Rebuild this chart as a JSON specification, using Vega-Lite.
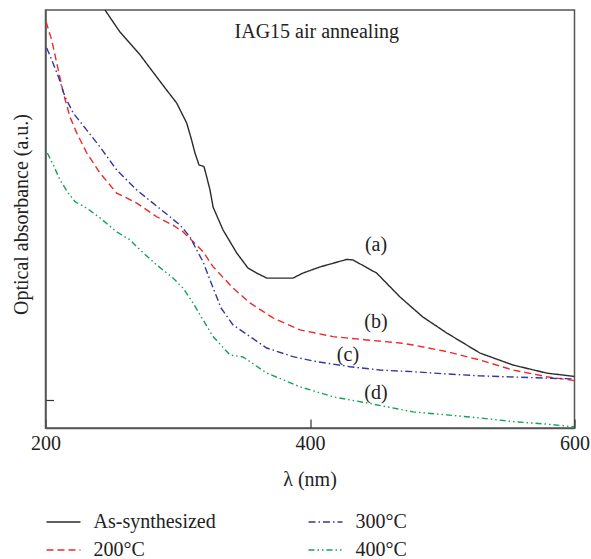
{
  "$schema": "https://vega.github.io/schema/vega-lite/v6.json",
  "width": 529,
  "height": 418,
  "autosize": "none",
  "padding": {"left": 45.5, "top": 10, "right": 16.5, "bottom": 131},
  "config": {
    "font": "Liberation Serif",
    "view": {"stroke": "#555", "strokeWidth": 1.5},
    "text": {"font": "Liberation Serif"},
    "legend": {"labelFont": "Liberation Serif", "titleFont": "Liberation Serif"},
    "axis": {"grid": false, "domainColor": "#555", "domainWidth": 1.5, "tickColor": "#333", "tickWidth": 1.2, "labelFont": "Liberation Serif", "labelFontSize": 20, "labelColor": "#222", "titleFont": "Liberation Serif", "titleFontSize": 20, "titleFontWeight": "normal", "titleColor": "#222"}
  },
  "datasets": {
    "curves": [
      {"s": "As-synthesized", "x": 245.0, "y": 1.500}, {"s": "As-synthesized", "x": 256.3, "y": 1.421}, {"s": "As-synthesized", "x": 271.5, "y": 1.339}, {"s": "As-synthesized", "x": 290.4, "y": 1.220}, {"s": "As-synthesized", "x": 299.2, "y": 1.166}, {"s": "As-synthesized", "x": 306.8, "y": 1.094}, {"s": "As-synthesized", "x": 310.5, "y": 1.033}, {"s": "As-synthesized", "x": 313.0, "y": 0.987}, {"s": "As-synthesized", "x": 316.1, "y": 0.944}, {"s": "As-synthesized", "x": 318.9, "y": 0.940}, {"s": "As-synthesized", "x": 319.9, "y": 0.937}, {"s": "As-synthesized", "x": 321.9, "y": 0.901}, {"s": "As-synthesized", "x": 324.4, "y": 0.854}, {"s": "As-synthesized", "x": 326.7, "y": 0.793}, {"s": "As-synthesized", "x": 334.2, "y": 0.711}, {"s": "As-synthesized", "x": 344.6, "y": 0.628}, {"s": "As-synthesized", "x": 353.1, "y": 0.574}, {"s": "As-synthesized", "x": 359.7, "y": 0.556}, {"s": "As-synthesized", "x": 367.3, "y": 0.538}, {"s": "As-synthesized", "x": 377.3, "y": 0.538}, {"s": "As-synthesized", "x": 387.1, "y": 0.538}, {"s": "As-synthesized", "x": 394.7, "y": 0.556}, {"s": "As-synthesized", "x": 407.6, "y": 0.578}, {"s": "As-synthesized", "x": 427.8, "y": 0.605}, {"s": "As-synthesized", "x": 432.5, "y": 0.603}, {"s": "As-synthesized", "x": 450.4, "y": 0.556}, {"s": "As-synthesized", "x": 468.1, "y": 0.470}, {"s": "As-synthesized", "x": 485.4, "y": 0.398}, {"s": "As-synthesized", "x": 503.4, "y": 0.341}, {"s": "As-synthesized", "x": 528.5, "y": 0.269}, {"s": "As-synthesized", "x": 553.5, "y": 0.226}, {"s": "As-synthesized", "x": 579.0, "y": 0.197}, {"s": "As-synthesized", "x": 600, "y": 0.185},
      {"s": "200°C", "x": 200.4, "y": 1.458}, {"s": "200°C", "x": 204.7, "y": 1.392}, {"s": "200°C", "x": 208.5, "y": 1.310}, {"s": "200°C", "x": 213.5, "y": 1.202}, {"s": "200°C", "x": 218.5, "y": 1.116}, {"s": "200°C", "x": 223.6, "y": 1.059}, {"s": "200°C", "x": 231.2, "y": 0.987}, {"s": "200°C", "x": 241.2, "y": 0.915}, {"s": "200°C", "x": 253.8, "y": 0.843}, {"s": "200°C", "x": 269.0, "y": 0.807}, {"s": "200°C", "x": 284.1, "y": 0.758}, {"s": "200°C", "x": 296.4, "y": 0.728}, {"s": "200°C", "x": 304.0, "y": 0.704}, {"s": "200°C", "x": 311.5, "y": 0.669}, {"s": "200°C", "x": 319.1, "y": 0.633}, {"s": "200°C", "x": 326.7, "y": 0.579}, {"s": "200°C", "x": 341.8, "y": 0.502}, {"s": "200°C", "x": 354.6, "y": 0.449}, {"s": "200°C", "x": 372.0, "y": 0.395}, {"s": "200°C", "x": 392.4, "y": 0.352}, {"s": "200°C", "x": 417.4, "y": 0.328}, {"s": "200°C", "x": 442.9, "y": 0.316}, {"s": "200°C", "x": 468.1, "y": 0.305}, {"s": "200°C", "x": 477.9, "y": 0.298}, {"s": "200°C", "x": 503.4, "y": 0.274}, {"s": "200°C", "x": 528.5, "y": 0.244}, {"s": "200°C", "x": 553.5, "y": 0.208}, {"s": "200°C", "x": 579.0, "y": 0.184}, {"s": "200°C", "x": 600, "y": 0.170},
      {"s": "300°C", "x": 200.9, "y": 1.364}, {"s": "300°C", "x": 204.7, "y": 1.321}, {"s": "300°C", "x": 209.7, "y": 1.261}, {"s": "300°C", "x": 214.7, "y": 1.189}, {"s": "300°C", "x": 221.0, "y": 1.130}, {"s": "300°C", "x": 231.2, "y": 1.069}, {"s": "300°C", "x": 241.2, "y": 1.009}, {"s": "300°C", "x": 253.8, "y": 0.926}, {"s": "300°C", "x": 269.0, "y": 0.854}, {"s": "300°C", "x": 281.3, "y": 0.807}, {"s": "300°C", "x": 294.1, "y": 0.758}, {"s": "300°C", "x": 301.7, "y": 0.728}, {"s": "300°C", "x": 309.3, "y": 0.686}, {"s": "300°C", "x": 314.3, "y": 0.639}, {"s": "300°C", "x": 319.1, "y": 0.597}, {"s": "300°C", "x": 324.4, "y": 0.531}, {"s": "300°C", "x": 330.4, "y": 0.459}, {"s": "300°C", "x": 332.5, "y": 0.432}, {"s": "300°C", "x": 341.8, "y": 0.370}, {"s": "300°C", "x": 354.6, "y": 0.328}, {"s": "300°C", "x": 367.3, "y": 0.287}, {"s": "300°C", "x": 387.1, "y": 0.256}, {"s": "300°C", "x": 405.1, "y": 0.238}, {"s": "300°C", "x": 430.2, "y": 0.220}, {"s": "300°C", "x": 452.9, "y": 0.208}, {"s": "300°C", "x": 477.9, "y": 0.202}, {"s": "300°C", "x": 503.4, "y": 0.194}, {"s": "300°C", "x": 528.5, "y": 0.187}, {"s": "300°C", "x": 553.5, "y": 0.183}, {"s": "300°C", "x": 579.0, "y": 0.179}, {"s": "300°C", "x": 600, "y": 0.176},
      {"s": "400°C", "x": 201.4, "y": 0.987}, {"s": "400°C", "x": 205.9, "y": 0.944}, {"s": "400°C", "x": 211.0, "y": 0.890}, {"s": "400°C", "x": 217.2, "y": 0.843}, {"s": "400°C", "x": 222.3, "y": 0.812}, {"s": "400°C", "x": 231.2, "y": 0.789}, {"s": "400°C", "x": 241.2, "y": 0.754}, {"s": "400°C", "x": 253.8, "y": 0.704}, {"s": "400°C", "x": 263.9, "y": 0.675}, {"s": "400°C", "x": 271.5, "y": 0.639}, {"s": "400°C", "x": 284.1, "y": 0.585}, {"s": "400°C", "x": 296.4, "y": 0.538}, {"s": "400°C", "x": 304.0, "y": 0.502}, {"s": "400°C", "x": 311.5, "y": 0.449}, {"s": "400°C", "x": 319.1, "y": 0.388}, {"s": "400°C", "x": 326.7, "y": 0.328}, {"s": "400°C", "x": 339.5, "y": 0.262}, {"s": "400°C", "x": 349.3, "y": 0.255}, {"s": "400°C", "x": 354.6, "y": 0.238}, {"s": "400°C", "x": 367.3, "y": 0.197}, {"s": "400°C", "x": 392.4, "y": 0.148}, {"s": "400°C", "x": 417.4, "y": 0.112}, {"s": "400°C", "x": 442.9, "y": 0.090}, {"s": "400°C", "x": 477.9, "y": 0.058}, {"s": "400°C", "x": 503.4, "y": 0.047}, {"s": "400°C", "x": 528.5, "y": 0.036}, {"s": "400°C", "x": 553.5, "y": 0.023}, {"s": "400°C", "x": 579.0, "y": 0.014}, {"s": "400°C", "x": 600, "y": 0.004}
    ],
    "notes": [
      {"t": "IAG15 air annealing", "x": 405.1, "y": 1.398},
      {"t": "(a)", "x": 449.9, "y": 0.635},
      {"t": "(b)", "x": 449.9, "y": 0.360},
      {"t": "(c)", "x": 428.7, "y": 0.240},
      {"t": "(d)", "x": 449.9, "y": 0.104}
    ]
  },
  "layer": [
    {
      "data": {"name": "curves"},
      "mark": {"type": "line", "strokeWidth": 1.4, "clip": true},
      "encoding": {
        "x": {"field": "x", "type": "quantitative", "scale": {"domain": [200, 600], "nice": false, "zero": false},
          "axis": {"values": [200, 400, 600], "tickSize": -9, "labelPadding": 24, "labelBaseline": "middle", "labelFlush": false, "labelFont": "Liberation Serif", "titleFont": "Liberation Serif", "title": "λ (nm)", "titleBaseline": "middle", "titleY": 51, "titleX": 264}},
        "y": {"field": "y", "type": "quantitative", "scale": {"domain": [0, 1.5], "nice": false, "zero": false},
          "axis": {"values": [0.1], "tickSize": -8, "labels": false, "titleFont": "Liberation Serif", "title": "Optical absorbance (a.u.)", "titleBaseline": "middle", "titleX": -24, "titleY": 204, "titleAngle": 270, "titleAlign": "center"}},
        "color": {"field": "s", "type": "nominal",
          "scale": {"domain": ["As-synthesized", "200°C", "300°C", "400°C"], "range": ["#2b2b2b", "#f02828", "#3535a5", "#12a354"]},
          "legend": {"title": null, "orient": "none", "legendX": 0, "legendY": 494, "columns": 2, "columnPadding": 89, "rowPadding": -0.5, "padding": 0, "symbolType": "stroke", "symbolSize": 1156, "symbolStrokeWidth": 1.5, "labelOffset": 12, "labelFontSize": 20, "labelFont": "Liberation Serif", "labelColor": "#222", "labelLimit": 300}},
        "strokeDash": {"field": "s", "type": "nominal",
          "scale": {"domain": ["As-synthesized", "200°C", "300°C", "400°C"], "range": [[1, 0], [7, 4], [7, 3, 1.5, 3], [6, 3, 1.5, 3, 1.5, 3]]},
          "legend": {"title": null, "orient": "none", "legendX": 0, "legendY": 494, "columns": 2, "columnPadding": 89, "rowPadding": -0.5, "padding": 0, "symbolType": "stroke", "symbolSize": 1156, "symbolStrokeWidth": 1.5, "labelOffset": 12, "labelFontSize": 20, "labelFont": "Liberation Serif", "labelColor": "#222", "labelLimit": 300}}
      }
    },
    {
      "data": {"name": "notes"},
      "mark": {"type": "text", "font": "Liberation Serif", "fontSize": 20, "color": "#222", "baseline": "alphabetic", "align": "center"},
      "encoding": {
        "x": {"field": "x", "type": "quantitative"},
        "y": {"field": "y", "type": "quantitative"},
        "text": {"field": "t"}
      }
    }
  ]
}
